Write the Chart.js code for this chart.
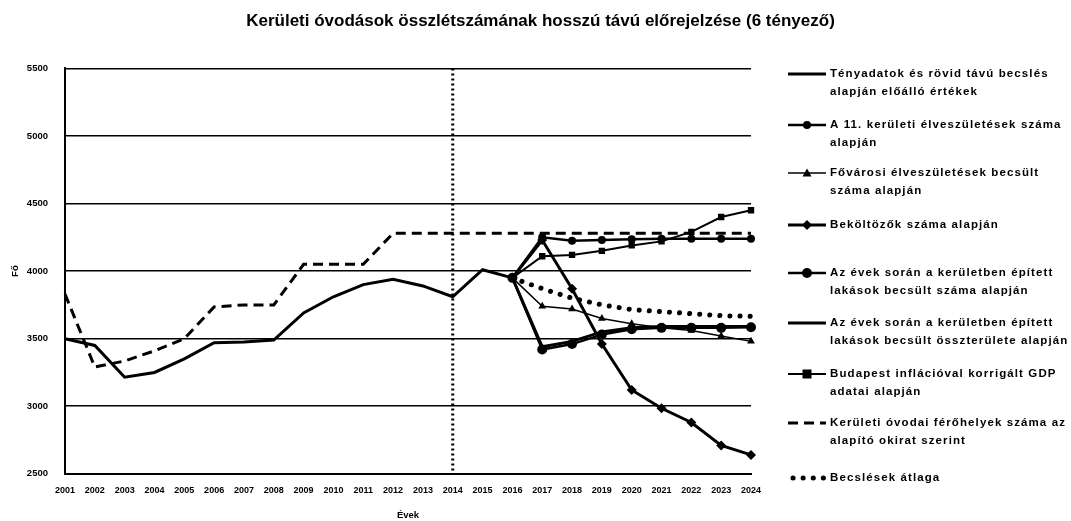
<!DOCTYPE html>
<html>
<head>
<meta charset="utf-8">
<script src="https://cdn.jsdelivr.net/npm/chart.js@4/dist/chart.umd.min.js"></script>
<style>
  body { margin: 0; background: #fff; }
  #wrap { width: 1071px; height: 521px; position: relative; }
</style>
</head>
<body>
<div id="wrap"><canvas id="grafikon"></canvas></div>
<script>
// Évek (kategóriák)
const evek = ['2001','2002','2003','2004','2005','2006','2007','2008','2009','2010','2011','2012',
              '2013','2014','2015','2016','2017','2018','2019','2020','2021','2022','2023','2024'];
const yTicks = [2500, 3000, 3500, 4000, 4500, 5000, 5500];

// Tényadatok 2001-2016
const tenyadatok = [3500, 3450, 3215, 3250, 3350, 3470, 3475, 3490, 3690, 3810, 3900, 3940,
                    3890, 3810, 4010, 3950];
// Becslések 2016-2024
const elveszuletes = [3950, 4250, 4225, 4230, 4235, 4240, 4240, 4240, 4240];
const fovarosi     = [3950, 3740, 3720, 3650, 3610, 3580, 3560, 3520, 3480];
const bekoltozok   = [3950, 4230, 3870, 3460, 3120, 2985, 2880, 2710, 2640];
const lakasSzam    = [3950, 3420, 3460, 3530, 3570, 3580, 3580, 3580, 3585];
const lakasTerulet = [3950, 3440, 3480, 3550, 3580, 3590, 3590, 3590, 3590];
const gdp          = [3950, 4110, 4120, 4150, 4190, 4220, 4290, 4400, 4450];
const atlag        = [3950, 3870, 3800, 3750, 3715, 3700, 3685, 3670, 3665];
// Férőhelyek 2001-2024
const ferohely = [3830, 3290, 3335, 3410, 3500, 3735, 3750, 3750, 4050, 4050, 4050, 4280,
                  4280, 4280, 4280, 4280, 4280, 4280, 4280, 4280, 4280, 4280, 4280, 4280];

const fekete = '#000';
const betu = '"Liberation Sans", Arial, sans-serif';

// 2016-tól kezdődő sorok kitöltése null értékekkel
function becsles(arr) {
    return Array(15).fill(null).concat(arr);
}

const sorok = [
    { text: ['Tényadatok és rövid távú becslés', 'alapján előálló értékek'], data: tenyadatok,
      width: 3, dash: [], marker: null, r: 0, y: 74 },
    { text: ['A 11. kerületi élveszületések száma', 'alapján'], data: becsles(elveszuletes),
      width: 2.5, dash: [], marker: 'circle', r: 4, y: 125 },
    { text: ['Fővárosi élveszületések becsült', 'száma alapján'], data: becsles(fovarosi),
      width: 1.5, dash: [], marker: 'triangle', r: 4.5, y: 173 },
    { text: ['Beköltözők száma alapján'], data: becsles(bekoltozok),
      width: 3, dash: [], marker: 'rectRot', r: 5, y: 225 },
    { text: ['Az évek során a kerületben épített', 'lakások becsült száma alapján'], data: becsles(lakasSzam),
      width: 2.5, dash: [], marker: 'circle', r: 5, y: 273 },
    { text: ['Az évek során a kerületben épített', 'lakások becsült összterülete alapján'], data: becsles(lakasTerulet),
      width: 3, dash: [], marker: null, r: 0, y: 323 },
    { text: ['Budapest inflációval korrigált GDP', 'adatai alapján'], data: becsles(gdp),
      width: 2, dash: [], marker: 'rect', r: 4.5, y: 374 },
    { text: ['Kerületi óvodai férőhelyek száma az', 'alapító okirat szerint'], data: ferohely,
      width: 3, dash: [10, 6], marker: null, r: 0, y: 423 },
    { text: ['Becslések átlaga'], data: becsles(atlag),
      width: 5, dash: [0.1, 10], marker: null, r: 0, y: 478, dotted: true }
];

// Marker rajzolása
function marker(ctx, tipus, x, y, r) {
    ctx.beginPath();
    if (tipus === 'circle') {
        ctx.arc(x, y, r, 0, Math.PI * 2);
    } else if (tipus === 'triangle') {
        ctx.moveTo(x, y - r);
        ctx.lineTo(x + r, y + r * 0.8);
        ctx.lineTo(x - r, y + r * 0.8);
        ctx.closePath();
    } else if (tipus === 'rect') {
        ctx.rect(x - r, y - r, 2 * r, 2 * r);
    } else if (tipus === 'rectRot') {
        ctx.moveTo(x, y - r);
        ctx.lineTo(x + r, y);
        ctx.lineTo(x, y + r);
        ctx.lineTo(x - r, y);
        ctx.closePath();
    }
    ctx.fill();
}

// Függőleges pontozott vonal 2014-nél
const fuggolegesVonal = {
    id: 'fuggolegesVonal',
    afterDatasetsDraw(chart) {
        const ctx = chart.ctx;
        const x = chart.scales.x.getPixelForValue(evek.indexOf('2014'));
        ctx.save();
        ctx.strokeStyle = fekete;
        ctx.lineWidth = 3;
        ctx.setLineDash([2, 3]);
        ctx.beginPath();
        ctx.moveTo(x, chart.chartArea.top);
        ctx.lineTo(x, chart.chartArea.bottom);
        ctx.stroke();
        ctx.restore();
    }
};

// Saját jelmagyarázat a jobb oldalon
const jelmagyarazat = {
    id: 'jelmagyarazat',
    afterDraw(chart) {
        const ctx = chart.ctx;
        ctx.save();
        sorok.forEach((s) => {
            ctx.strokeStyle = fekete;
            ctx.fillStyle = fekete;
            ctx.lineWidth = s.width;
            ctx.setLineDash(s.dash);
            ctx.lineCap = s.dotted ? 'round' : 'butt';
            ctx.beginPath();
            ctx.moveTo(s.dotted ? 793 : 788, s.y);
            ctx.lineTo(826, s.y);
            ctx.stroke();
            ctx.setLineDash([]);
            if (s.marker) marker(ctx, s.marker, 807, s.y, s.r);

            ctx.font = 'bold 11.5px ' + betu;
            ctx.letterSpacing = '1.1px';
            ctx.textBaseline = 'middle';
            ctx.textAlign = 'left';
            s.text.forEach((t, i) => {
                ctx.fillText(t, 830, s.y + i * 18);
            });
        });
        ctx.restore();
    }
};

const datasets = sorok.map((s) => ({
    label: s.text.join(' '),
    data: s.data,
    borderColor: fekete,
    backgroundColor: fekete,
    borderWidth: s.width,
    borderDash: s.dash,
    borderCapStyle: s.dotted ? 'round' : 'butt',
    pointStyle: s.marker || 'circle',
    pointRadius: s.marker ? s.r : 0,
    pointBorderWidth: 0,
    tension: 0,
    yAxisID: 'y'
}));

new Chart(document.getElementById('grafikon'), {
    type: 'line',
    data: { labels: evek, datasets: datasets },
    options: {
        responsive: true,
        maintainAspectRatio: false,
        animation: false,
        devicePixelRatio: 1,
        layout: { padding: { left: 10, right: 0, top: 0, bottom: 0 } },
        plugins: {
            legend: { display: false },
            tooltip: { enabled: false },
            title: {
                display: true,
                text: 'Kerületi óvodások összlétszámának hosszú távú előrejelzése (6 tényező)',
                color: fekete,
                font: { family: betu, size: 17, weight: 'bold' },
                padding: { top: 11, bottom: 37 }
            }
        },
        scales: {
            x: {
                offset: false,
                grid: { display: false, drawTicks: false },
                border: { color: fekete, width: 2 },
                ticks: {
                    color: fekete, padding: 11, maxRotation: 0, autoSkip: false,
                    font: { family: betu, size: 9, weight: 'bold' }
                },
                title: {
                    display: true, text: 'Évek', color: fekete, padding: { top: 3, bottom: 0 },
                    font: { family: betu, size: 9.5, weight: 'bold' }
                }
            },
            y: {
                min: 2500,
                max: 5500,
                afterBuildTicks: (scale) => { scale.ticks = yTicks.map(v => ({ value: v })); },
                afterFit: (scale) => { scale.width = 55; },
                grid: { color: fekete, lineWidth: 1.5, drawTicks: false },
                border: { color: fekete, width: 2 },
                ticks: {
                    color: fekete, padding: 17,
                    callback: (v) => String(v),
                    font: { family: betu, size: 9.5, weight: 'bold' }
                },
                title: {
                    display: true, text: 'Fő', color: fekete, padding: { top: 0, bottom: 0 },
                    font: { family: betu, size: 9.5, weight: 'bold' }
                }
            },
            hely: {
                position: 'right',
                type: 'linear',
                grid: { display: false },
                border: { display: false },
                ticks: { display: false },
                afterFit: (scale) => { scale.width = 320; }
            }
        }
    },
    plugins: [fuggolegesVonal, jelmagyarazat]
});
</script>
</body>
</html>
